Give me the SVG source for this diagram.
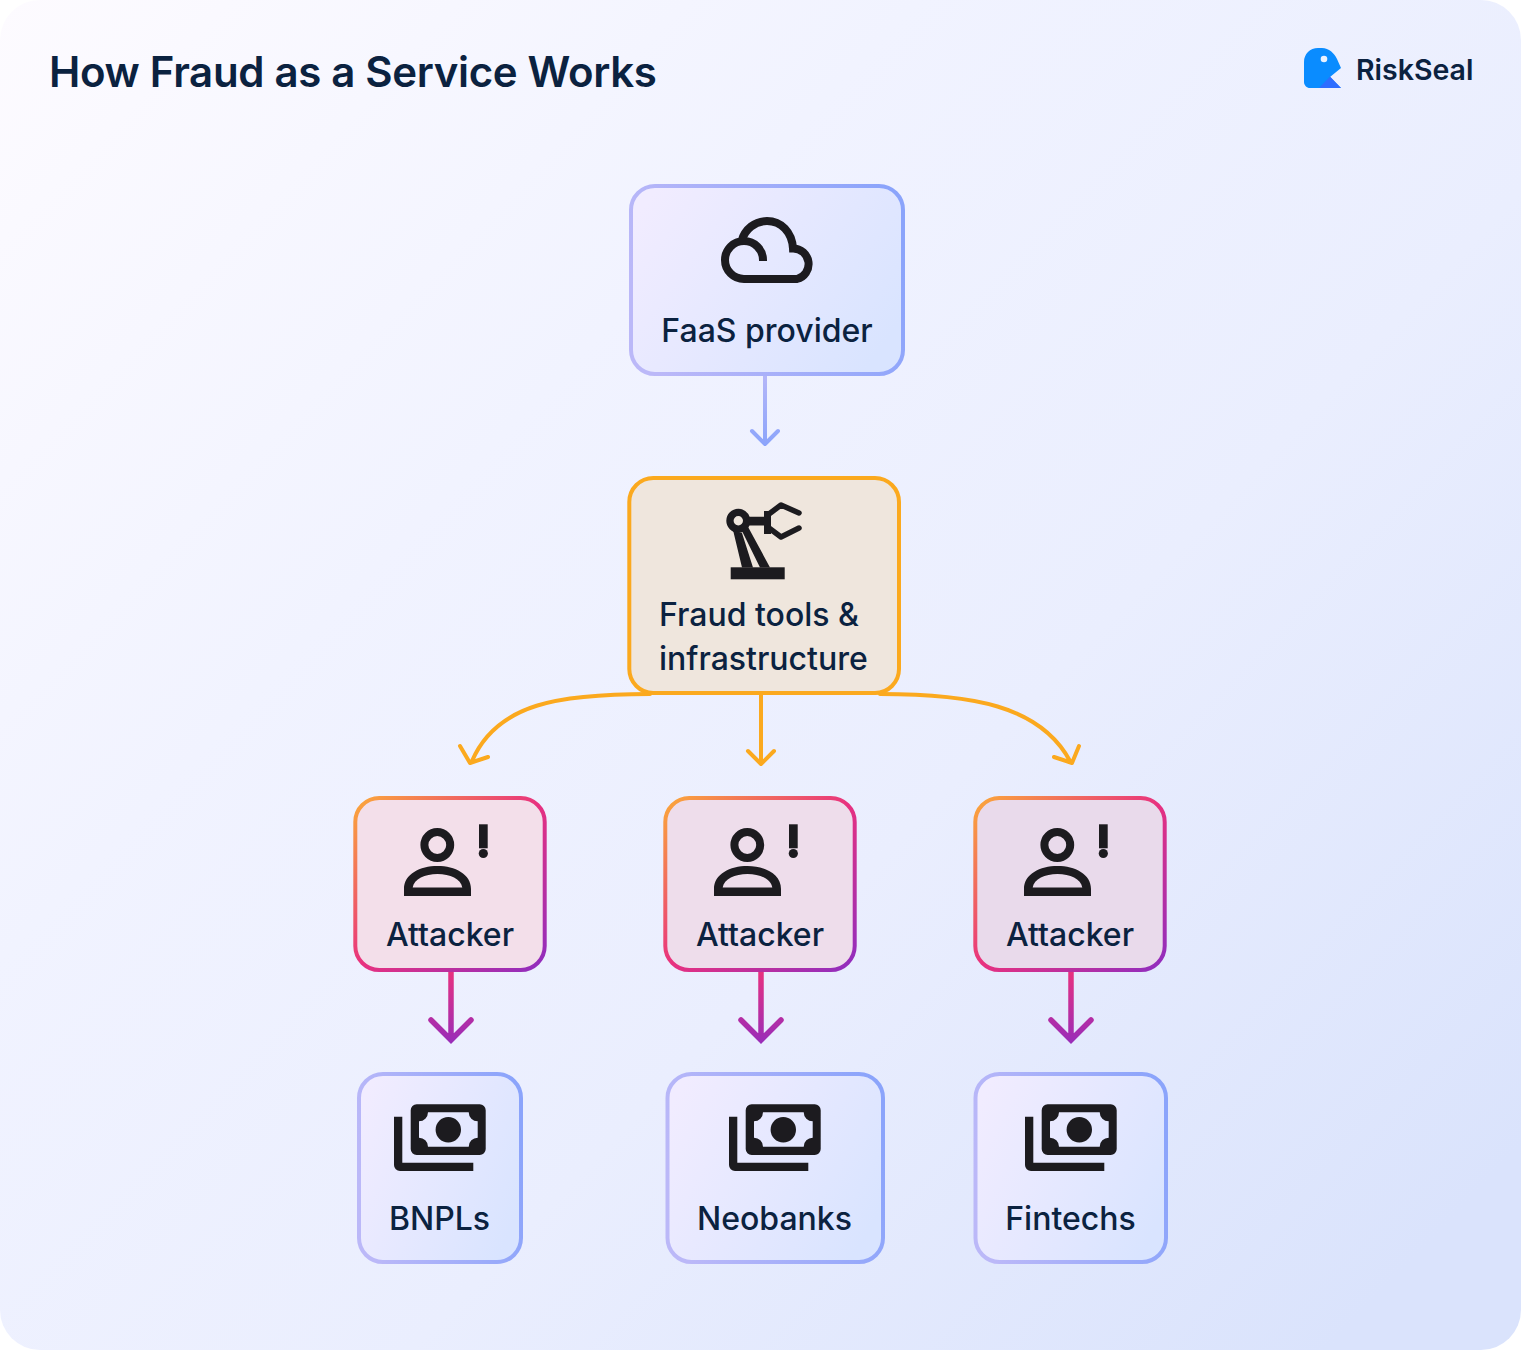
<svg xmlns="http://www.w3.org/2000/svg" width="1521" height="1350" viewBox="0 0 1521 1350">
<style>
text{font-family:Inter,"Liberation Sans",sans-serif;fill:#0B2240}
.label{font-size:32px;font-weight:500;text-anchor:middle}
.ic{fill:#1C1B1F}
.blue{fill:url(#blueFill);stroke:url(#blueStroke);stroke-width:4}
.atk{stroke:url(#atkStroke);stroke-width:4}
.oc{fill:none;stroke:#FBA91E;stroke-width:4;stroke-linecap:round;stroke-linejoin:round}
.bc{fill:none;stroke-width:4;stroke-linecap:round;stroke-linejoin:round}
.pc{fill:none;stroke-width:5.500;stroke-linecap:round;stroke-linejoin:miter}
</style>
<defs>
<linearGradient id="bg" x1="0" y1="0" x2="1" y2="0.85"><stop offset="0" stop-color="#FDFBFF"/><stop offset="0.35" stop-color="#F1F3FF"/><stop offset="0.65" stop-color="#EAEEFE"/><stop offset="1" stop-color="#DAE3FC"/></linearGradient>
<linearGradient id="blueFill" x1="0" y1="0.2" x2="1" y2="0.7"><stop offset="0" stop-color="#F1ECFF"/><stop offset="1" stop-color="#D9E4FF"/></linearGradient>
<linearGradient id="blueStroke" x1="0" y1="0.5" x2="1" y2="0.3"><stop offset="0" stop-color="#BBB8F8"/><stop offset="1" stop-color="#8BA4FB"/></linearGradient>
<linearGradient id="atkStroke" x1="0" y1="0" x2="1" y2="1"><stop offset="0" stop-color="#FBA83A"/><stop offset="0.5" stop-color="#E8317F"/><stop offset="1" stop-color="#8E2DC0"/></linearGradient>
<linearGradient id="pk1" gradientUnits="userSpaceOnUse" x1="0" y1="972" x2="0" y2="1042"><stop offset="0" stop-color="#E8317F"/><stop offset="1" stop-color="#9A2CB8"/></linearGradient>
<linearGradient id="bl1" gradientUnits="userSpaceOnUse" x1="0" y1="376" x2="0" y2="446"><stop offset="0" stop-color="#B4B6F8"/><stop offset="1" stop-color="#8BA4FB"/></linearGradient>
<g id="attackerIcon">
<circle cx="437.3" cy="845" r="12.9" fill="none" stroke="#1C1B1F" stroke-width="8"/>
<path class="ic" fill-rule="evenodd" d="M404 896V889C404 874 420 866 437.5 866S471 874 471 889V896ZM412.7 887.5H462.3C461 879 450 874 437.5 874S414 879 412.7 887.5Z"/>
<rect class="ic" x="479" y="824.3" width="8.7" height="24"/>
<circle class="ic" cx="483.3" cy="853.5" r="4.6"/>
</g>
<g id="moneyIcon">
<path class="ic" fill-rule="evenodd" d="M416.7 1104.3H479.7A6 6 0 0 1 485.7 1110.3V1149A6 6 0 0 1 479.7 1155H416.7A6 6 0 0 1 410.7 1149V1110.3A6 6 0 0 1 416.7 1104.3ZM428 1112.3A9 9 0 0 1 419 1121.3V1137.7A9 9 0 0 1 428 1146.7H468.7A9 9 0 0 1 477.7 1137.7V1121.3A9 9 0 0 1 468.7 1112.3Z"/>
<circle class="ic" cx="448.3" cy="1129.7" r="12.7"/>
<path class="ic" d="M394 1116.7H402.3V1162.7H473.3V1171H400A6 6 0 0 1 394 1165Z"/>
</g>
</defs>
<rect id="background" x="0" y="0" width="1521" height="1350" rx="40" fill="url(#bg)"/>
<text x="49" y="87" font-size="42" font-weight="600" letter-spacing="-0.33">How Fraud as a Service Works</text>
<g id="logo">
<path fill="#0A8CFF" d="M1304 62C1304 54 1310 48 1318 48H1322C1329 48 1334 53 1337 59L1341 68L1330 77L1341 88H1310C1306.700 88 1304 85.300 1304 82Z"/>
<path fill="#2E6DFF" d="M1319 88L1330 76.500L1341 88Z"/>
<circle cx="1324" cy="59" r="3.300" fill="#EAF2FF"/>
<text x="1356" y="80" font-size="28.500" font-weight="600">RiskSeal</text>
</g>
<g id="connectors">
<path class="bc" stroke="url(#bl1)" d="M765 376V444M752 431L765 444L778 431"/>
<path class="oc" d="M761 695V764M748 751L761 764L774 751"/>
<path class="oc" d="M650 694C560 694 497 703 472 761M460 746L470 763L488 757"/>
<path class="oc" d="M880 694C970 694 1040 705 1070 761M1054 757L1072 763L1079 746"/>
<path class="pc" stroke="url(#pk1)" d="M451 972V1040M431 1020L451 1040L471 1020"/>
<path class="pc" stroke="url(#pk1)" d="M761 972V1040M741 1020L761 1040L781 1020"/>
<path class="pc" stroke="url(#pk1)" d="M1071 972V1040M1051 1020L1071 1040L1091 1020"/>
</g>
<g id="node-faas">
<rect class="blue" x="631" y="186" width="272" height="188" rx="24"/>
<path fill="none" stroke="#1C1B1F" stroke-width="8" d="M763 261V260A19 19 0 1 0 744 279H797A15.500 15.500 0 0 0 793 248.500C792 232 781 221 767 221C755 221 745 229 741.500 241"/>
<text class="label" x="767" y="342">FaaS provider</text>
</g>
<g id="node-tools">
<rect x="629.300" y="478" width="269.700" height="215" rx="24" fill="#EFE6DD" stroke="#FBA91E" stroke-width="4"/>
<g id="robot">
<rect class="ic" x="730.700" y="567.300" width="54" height="12"/>
<path class="ic" fill-rule="evenodd" d="M738.300 508.700A12 12 0 0 1 749.600 516.800H764V525.500H749.500A12 12 0 0 1 738.300 532.700A12 12 0 0 1 726.300 520.700A12 12 0 0 1 738.300 508.700ZM738.300 516A4.700 4.700 0 1 0 738.300 525.400A4.700 4.700 0 1 0 738.300 516Z"/>
<path class="ic" d="M733 530L742 533L753 567.400H742ZM742 531L747 525L770 567.400H760Z"/>
<path class="ic" d="M764 511H771V534H764Z"/>
<path fill="none" stroke="#1C1B1F" stroke-width="5.500" stroke-linecap="round" stroke-linejoin="round" d="M769 514L781 505L799 513M769 528L781 537L799 528"/>
</g>
<text class="label" x="659" y="626" style="text-anchor:start">Fraud tools &amp;</text>
<text class="label" x="659" y="670" style="text-anchor:start">infrastructure</text>
</g>
<g id="node-attacker-1">
<rect class="atk" x="355.300" y="798" width="189.400" height="172" rx="24" fill="#F3DFEA"/>
<use href="#attackerIcon"/>
<text class="label" x="450" y="946">Attacker</text>
</g>
<g id="node-attacker-2">
<rect class="atk" x="665.300" y="798" width="189.400" height="172" rx="24" fill="#EEDDEB"/>
<use href="#attackerIcon" transform="translate(310 0)"/>
<text class="label" x="760" y="946">Attacker</text>
</g>
<g id="node-attacker-3">
<rect class="atk" x="975.300" y="798" width="189.400" height="172" rx="24" fill="#E9DAEB"/>
<use href="#attackerIcon" transform="translate(620 0)"/>
<text class="label" x="1070" y="946">Attacker</text>
</g>
<g id="node-bnpls">
<rect class="blue" x="359" y="1074" width="162" height="188" rx="24"/>
<use href="#moneyIcon"/>
<text class="label" x="439.500" y="1230">BNPLs</text>
</g>
<g id="node-neobanks">
<rect class="blue" x="667.500" y="1074" width="215.500" height="188" rx="24"/>
<use href="#moneyIcon" transform="translate(335 0)"/>
<text class="label" x="774.500" y="1230">Neobanks</text>
</g>
<g id="node-fintechs">
<rect class="blue" x="975.500" y="1074" width="190.500" height="188" rx="24"/>
<use href="#moneyIcon" transform="translate(631 0)"/>
<text class="label" x="1070.500" y="1230">Fintechs</text>
</g>
</svg>
